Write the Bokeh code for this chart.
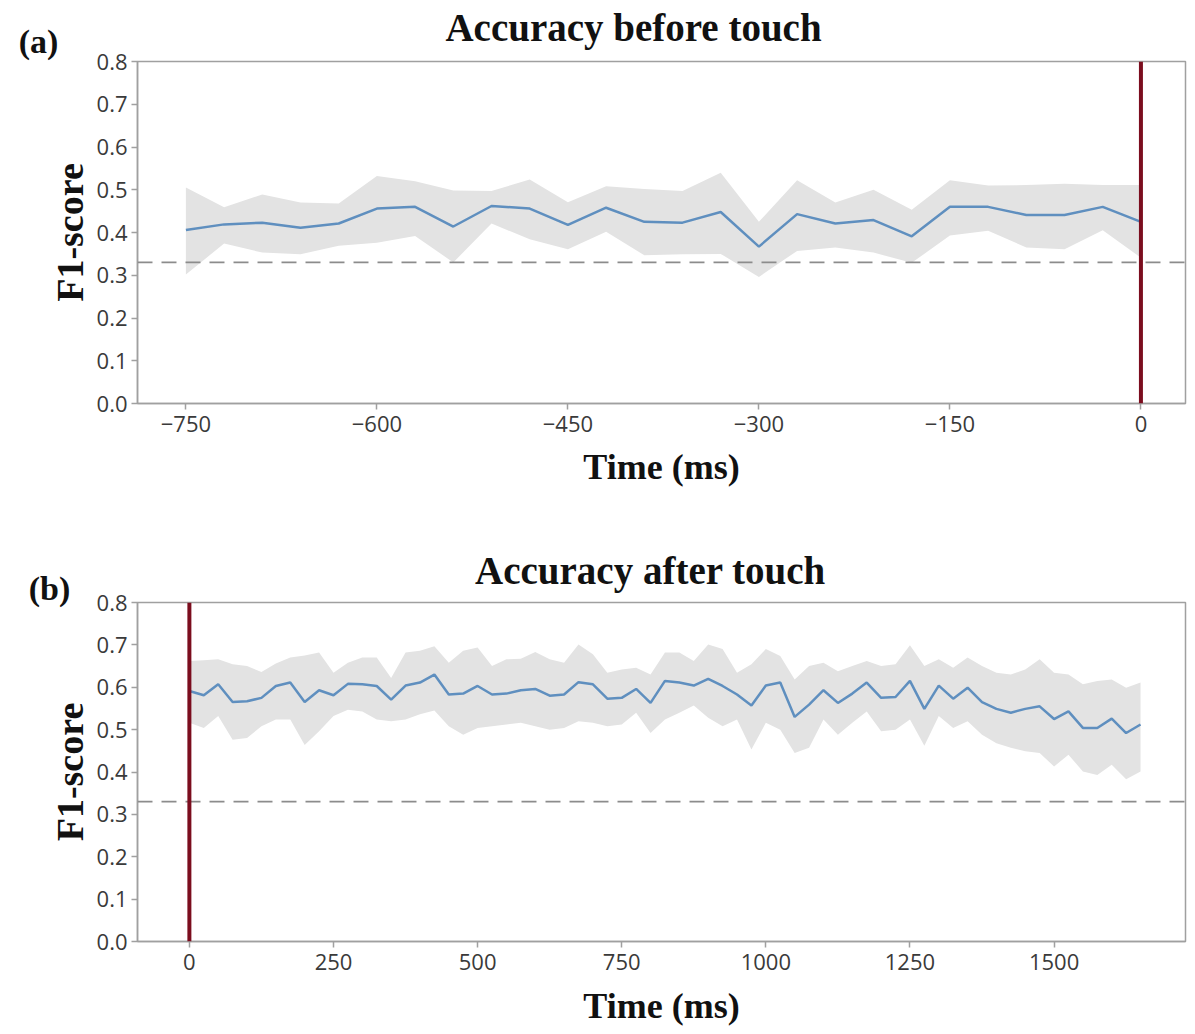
from bokeh.plotting import figure
from bokeh.models import Span, Label, FixedTicker, PrintfTickFormatter
from bokeh.layouts import column
from bokeh.embed import file_html
from bokeh.resources import INLINE

# ---------------- data: (a) before touch ----------------
t_before = [-750, -720, -690, -660, -630, -600, -570, -540, -510, -480, -450, -420, -390,
            -360, -330, -300, -270, -240, -210, -180, -150, -120, -90, -60, -30, 0]
f1_before = [0.406, 0.419, 0.423, 0.411, 0.421, 0.456, 0.460, 0.414, 0.462, 0.456, 0.418, 0.458, 0.425,
             0.423, 0.448, 0.367, 0.443, 0.421, 0.429, 0.391, 0.460, 0.460, 0.441, 0.441, 0.460, 0.425]
upper_before = [0.505, 0.459, 0.489, 0.470, 0.468, 0.532, 0.520, 0.498, 0.497, 0.524, 0.471, 0.508, 0.502,
                0.497, 0.540, 0.425, 0.522, 0.470, 0.500, 0.453, 0.522, 0.510, 0.511, 0.514, 0.511, 0.511]
lower_before = [0.302, 0.374, 0.353, 0.349, 0.369, 0.376, 0.392, 0.330, 0.421, 0.384, 0.361, 0.402, 0.347,
                0.349, 0.350, 0.296, 0.357, 0.365, 0.353, 0.329, 0.393, 0.404, 0.365, 0.361, 0.405, 0.341]

# ---------------- data: (b) after touch ----------------
t_after = [0, 25, 50, 75, 100, 125, 150, 175, 200, 225, 250, 275, 300, 325, 350, 375, 400, 425,
           450, 475, 500, 525, 550, 575, 600, 625, 650, 675, 700, 725, 750, 775, 800, 825, 850,
           875, 900, 925, 950, 975, 1000, 1025, 1050, 1075, 1100, 1125, 1150, 1175, 1200, 1225,
           1250, 1275, 1300, 1325, 1350, 1375, 1400, 1425, 1450, 1475, 1500, 1525, 1550, 1575,
           1600, 1625, 1650]
f1_after = [0.591, 0.581, 0.607, 0.565, 0.567, 0.575, 0.603, 0.611, 0.565, 0.593, 0.581, 0.608, 0.607,
            0.603, 0.571, 0.604, 0.611, 0.630, 0.583, 0.585, 0.603, 0.583, 0.585, 0.593, 0.596, 0.580,
            0.583, 0.612, 0.607, 0.573, 0.575, 0.596, 0.563, 0.615, 0.611, 0.604, 0.620, 0.603, 0.583,
            0.557, 0.604, 0.611, 0.530, 0.559, 0.593, 0.563, 0.585, 0.611, 0.575, 0.577, 0.615, 0.549,
            0.604, 0.573, 0.599, 0.565, 0.549, 0.540, 0.549, 0.555, 0.525, 0.543, 0.504, 0.504, 0.526,
            0.492, 0.512]
upper_after = [0.662, 0.664, 0.666, 0.654, 0.650, 0.636, 0.656, 0.670, 0.675, 0.682, 0.634, 0.658, 0.670,
               0.670, 0.622, 0.682, 0.686, 0.697, 0.658, 0.686, 0.694, 0.650, 0.666, 0.667, 0.683, 0.666,
               0.658, 0.701, 0.678, 0.634, 0.642, 0.646, 0.630, 0.682, 0.682, 0.662, 0.701, 0.690, 0.634,
               0.654, 0.690, 0.674, 0.618, 0.650, 0.658, 0.638, 0.650, 0.662, 0.650, 0.654, 0.699, 0.650,
               0.666, 0.646, 0.670, 0.650, 0.634, 0.630, 0.642, 0.666, 0.634, 0.630, 0.607, 0.615, 0.618,
               0.599, 0.611]
lower_after = [0.516, 0.504, 0.532, 0.476, 0.480, 0.508, 0.524, 0.524, 0.464, 0.496, 0.532, 0.547, 0.543,
               0.524, 0.520, 0.524, 0.536, 0.545, 0.508, 0.488, 0.504, 0.508, 0.512, 0.516, 0.508, 0.500,
               0.504, 0.520, 0.516, 0.508, 0.512, 0.540, 0.492, 0.524, 0.540, 0.557, 0.528, 0.508, 0.524,
               0.453, 0.516, 0.500, 0.445, 0.457, 0.524, 0.488, 0.516, 0.543, 0.496, 0.500, 0.524, 0.462,
               0.532, 0.504, 0.520, 0.488, 0.468, 0.457, 0.449, 0.445, 0.413, 0.441, 0.401, 0.393, 0.417,
               0.383, 0.401]

chance_level = 0.33
touch_time = 0

y_ticks = [0.0, 0.1, 0.2, 0.3, 0.4, 0.5, 0.6, 0.7, 0.8]
x_ticks_before = [-750, -600, -450, -300, -150, 0]
x_tick_labels_before = ["\u2212750", "\u2212600", "\u2212450", "\u2212300", "\u2212150", "0"]
x_ticks_after = [0, 250, 500, 750, 1000, 1250, 1500]

title_before = "Accuracy before touch"
title_after = "Accuracy after touch"
x_label = "Time (ms)"
y_label = "F1-score"

SERIF = "Liberation Serif"
SANS = "Open Sans"
GREY = "#a0a0a0"
LINE_BLUE = "#5f8fbf"
BAND = "#e3e3e3"
TOUCH_RED = "#7b0d1e"


def style(p, xticks, xlabels=None):
    p.xgrid.grid_line_color = None
    p.ygrid.grid_line_color = None
    p.outline_line_color = GREY
    p.outline_line_width = 1.5
    p.background_fill_color = "white"
    p.border_fill_color = "white"
    for ax in (p.xaxis[0], p.yaxis[0]):
        ax.axis_line_color = GREY
        ax.axis_line_width = 1.5
        ax.major_tick_line_color = GREY
        ax.major_tick_line_width = 1.5
        ax.major_tick_in = 0
        ax.major_tick_out = 6
        ax.minor_tick_line_color = None
        ax.major_label_text_font = SANS
        ax.major_label_text_font_size = "22px"
        ax.major_label_text_color = "#3a3a3a"
        ax.axis_label_text_font = SERIF
        ax.axis_label_text_font_style = "bold"
        ax.axis_label_text_color = "#111111"
    p.yaxis[0].ticker = FixedTicker(ticks=y_ticks)
    p.yaxis[0].formatter = PrintfTickFormatter(format="%.1f")
    p.yaxis[0].axis_label = y_label
    p.yaxis[0].axis_label_text_font_size = "38px"
    p.yaxis[0].major_label_standoff = 4
    p.yaxis[0].axis_label_standoff = 3
    p.xaxis[0].ticker = FixedTicker(ticks=xticks)
    if xlabels is not None:
        p.xaxis[0].major_label_overrides = {t: s for t, s in zip(xticks, xlabels)}
    p.xaxis[0].axis_label = x_label
    p.xaxis[0].axis_label_text_font_size = "36px"
    p.xaxis[0].major_label_standoff = 6


def add_series(p, t, mean, lo, hi):
    p.varea(x=t, y1=lo, y2=hi, fill_color=BAND, fill_alpha=1.0)
    p.add_layout(Span(location=chance_level, dimension="width", line_color="#8c8c8c",
                      line_width=1.8, line_dash="15 9"))
    p.line(x=t, y=mean, line_color=LINE_BLUE, line_width=2.5)
    p.add_layout(Span(location=touch_time, dimension="height", line_color=TOUCH_RED,
                      line_width=4))


def add_text(p, x, y, text, size, place):
    p.add_layout(Label(x=x, y=y, x_units="screen", y_units="screen", text=text,
                       text_font=SERIF, text_font_style="bold", text_font_size=size,
                       text_align="center", text_baseline="middle", text_color="#111111"),
                 place)


# ---------------- (a) ----------------
FH1 = 342
p1 = figure(width=1193, height=538, x_range=(-788, 35), y_range=(0, 0.8),
            output_backend="svg", toolbar_location=None,
            min_border_left=137, min_border_right=8, min_border_top=61, min_border_bottom=135)
style(p1, x_ticks_before, x_tick_labels_before)
p1.xaxis[0].axis_label_standoff = 12
add_series(p1, t_before, f1_before, lower_before, upper_before)
add_text(p1, 496, 34, title_before, "39px", "above")
add_text(p1, 33, FH1 + 20, "(a)", "34px", "left")

# ---------------- (b) ----------------
FH2 = 339
p2 = figure(width=1193, height=494, x_range=(-90, 1728), y_range=(0, 0.8),
            output_backend="svg", toolbar_location=None,
            min_border_left=137, min_border_right=8, min_border_top=64, min_border_bottom=91)
style(p2, x_ticks_after)
p2.xaxis[0].axis_label_standoff = 13
add_series(p2, t_after, f1_after, lower_after, upper_after)
add_text(p2, 513, 32, title_after, "39px", "above")
add_text(p2, 46, FH2 + 14, "(b)", "34px", "left")

layout = column(p1, p2, spacing=0)
open("out.html", "w").write(file_html(layout, INLINE))
